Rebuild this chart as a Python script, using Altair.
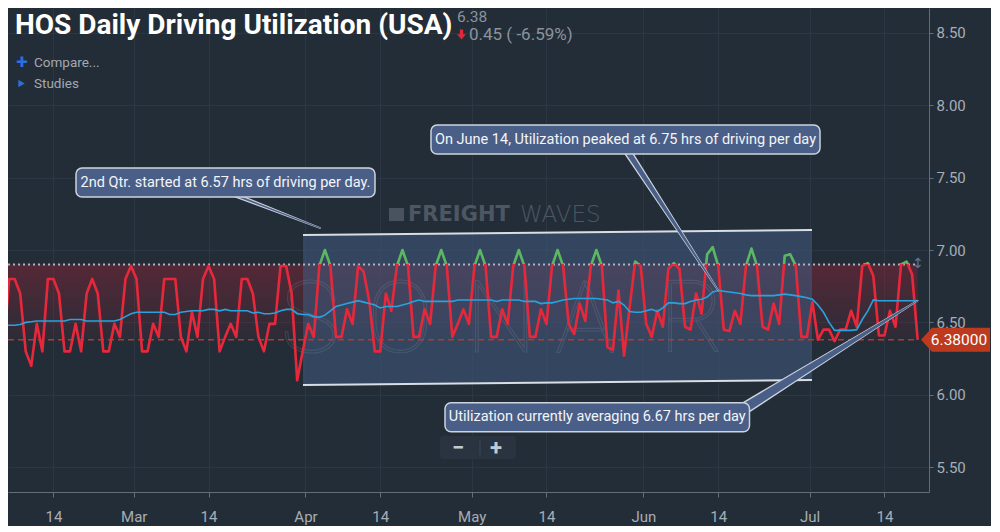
import altair as alt
import pandas as pd

# ---------------- data (daily values, first point 2019-02-04) ----------------
util = [
    6.45, 6.30, 6.80, 6.80, 6.70, 6.30, 6.20,
    6.49, 6.30, 6.80, 6.80, 6.70, 6.30, 6.30,
    6.49, 6.30, 6.70, 6.80, 6.70, 6.30, 6.30,
    6.49, 6.40, 6.80, 6.89, 6.80, 6.30, 6.30,
    6.49, 6.40, 6.80, 6.80, 6.80, 6.40, 6.30,
    6.57, 6.40, 6.80, 6.89, 6.80, 6.30, 6.40,
    6.49, 6.40, 6.80, 6.80, 6.70, 6.40, 6.30,
    6.49, 6.49, 6.89, 6.89, 6.70, 6.10, 6.30,
    6.49, 6.40, 6.89, 7.00, 6.89, 6.40, 6.40,
    6.59, 6.49, 6.89, 6.85, 6.65, 6.30, 6.30,
    6.70, 6.58, 6.89, 7.00, 6.89, 6.40, 6.40,
    6.59, 6.49, 6.89, 7.00, 6.89, 6.40, 6.49,
    6.59, 6.49, 6.89, 7.00, 6.89, 6.40, 6.40,
    6.59, 6.49, 6.89, 7.00, 6.89, 6.40, 6.40,
    6.59, 6.49, 6.89, 7.00, 6.89, 6.49, 6.42,
    6.63, 6.51, 6.89, 7.00, 6.89, 6.33, 6.31,
    6.72, 6.27, 6.60, 6.92, 6.89, 6.49, 6.40,
    6.58, 6.47, 6.87, 6.91, 6.87, 6.47, 6.45,
    6.70, 6.56, 6.97, 7.02, 6.89, 6.45, 6.44,
    6.58, 6.49, 6.89, 7.01, 6.89, 6.47, 6.45,
    6.63, 6.49, 6.96, 6.97, 6.89, 6.40, 6.40,
    6.64, 6.38, 6.45, 6.45, 6.37, 6.45, 6.45,
    6.58, 6.47, 6.89, 6.91, 6.82, 6.41, 6.41,
    6.58, 6.47, 6.90, 6.92, 6.83, 6.38,
]
avg = [
    6.48, 6.48, 6.48, 6.48, 6.485, 6.50, 6.505,
    6.51, 6.51, 6.51, 6.51, 6.51, 6.51, 6.52,
    6.52, 6.52, 6.51, 6.51, 6.51, 6.51, 6.51,
    6.51, 6.52, 6.54, 6.56, 6.57, 6.57, 6.57,
    6.57, 6.57, 6.57, 6.555, 6.555, 6.57, 6.575,
    6.58, 6.58, 6.58, 6.59, 6.59, 6.58, 6.59,
    6.58, 6.58, 6.58, 6.58, 6.565, 6.57, 6.56,
    6.56, 6.565, 6.58, 6.59, 6.59, 6.56, 6.555,
    6.555, 6.54, 6.535, 6.55, 6.58, 6.61, 6.62,
    6.63, 6.64, 6.65, 6.64, 6.63, 6.62, 6.60,
    6.61, 6.61, 6.61, 6.62, 6.63, 6.645, 6.655,
    6.645, 6.645, 6.645, 6.645, 6.645, 6.645, 6.655,
    6.655, 6.655, 6.655, 6.655, 6.655, 6.655, 6.645,
    6.655, 6.655, 6.655, 6.655, 6.645, 6.645, 6.645,
    6.63, 6.635, 6.635, 6.645, 6.655, 6.66, 6.665,
    6.665, 6.665, 6.665, 6.665, 6.66, 6.655, 6.635,
    6.645, 6.62, 6.575, 6.57, 6.57, 6.58, 6.59,
    6.575, 6.60, 6.635, 6.635, 6.63, 6.63, 6.645,
    6.655, 6.66, 6.675, 6.71, 6.72, 6.715, 6.71,
    6.705, 6.70, 6.69, 6.685, 6.685, 6.685, 6.685,
    6.685, 6.69, 6.695, 6.69, 6.685, 6.678, 6.67,
    6.66, 6.62, 6.57, 6.50, 6.445, 6.445, 6.445,
    6.445, 6.45, 6.52, 6.58, 6.655, 6.65, 6.65,
    6.65, 6.65, 6.65, 6.65, 6.65, 6.65,
]
assert len(util) == len(avg)
dates = pd.date_range("2019-02-04 12:00", periods=len(util), freq="D").strftime("%Y-%m-%dT%H:%M:%S").tolist()

THRESH = 6.9
last_val = util[-1]
prev_val = util[-2]
chg = last_val - prev_val
pct = chg / prev_val * 100

# channel drawn on the chart
ch_dates = ["2019-03-31T13:10:00", "2019-07-01T10:20:00"]
ch_top = [7.104, 7.138]
ch_bot = [6.068, 6.102]

# callouts
box_x1 = ["2019-02-18T13:47:00", "2019-04-23T15:40:00", "2019-04-26T04:20:00"]
box_x2 = ["2019-04-13T13:05:00", "2019-07-02T20:53:00", "2019-06-20T03:27:00"]
box_y1 = [7.566, 7.863, 5.945]
box_y2 = [7.366, 7.663, 5.745]
box_xc = ["2019-03-17T13:26:00", "2019-05-28T18:15:00", "2019-05-23T15:50:00"]
box_yc = [7.466, 7.763, 5.845]
box_text = [
    "2nd Qtr. started at 6.57 hrs of driving per day.",
    "On June 14, Utilization peaked at 6.75 hrs of driving per day",
    "Utilization currently averaging 6.67 hrs per day",
]
ptr_base_date = ["2019-03-17T19:55:00", "2019-05-28T20:24:00", "2019-06-19T07:55:00"]
ptr_base_val = [7.4006, 7.6975, 5.909]
ptr_tip_date = ["2019-04-03T14:49:00", dates[130], dates[-1]]
ptr_tip_val = [7.152, avg[130], avg[-1]]
ptr_base_w = [2.0, 5.5, 9.5]

# watermark letters
sonar_letters = ["S", "O", "N", "A", "R"]
sonar_x = [302, 392, 493, 577, 684]

# ---------------- styling ----------------
BG = "#232d38"
GRID = "#2c3743"
AX = "#646e79"
LAB = "#a7aeb6"
RED = "#e8283a"
GREEN = "#5cb860"
BLUE = "#2aa3dc"
BOXFILL = "#4a5f87"
BOXLINE = "#cdd3dc"

xscale = alt.Scale(domain=[alt.DateTime(year=2019, month=2, date=6, hours=7, minutes=12),
                           alt.DateTime(year=2019, month=7, date=22, hours=13, minutes=5)])
yscale = alt.Scale(domain=[5.3287, 8.6713], nice=False, zero=False)
tick_dates = [(2, 14, 12), (3, 1, 0), (3, 14, 12), (4, 1, 0), (4, 14, 12), (5, 1, 0),
              (5, 14, 12), (6, 1, 0), (6, 14, 12), (7, 1, 0), (7, 14, 12)]
xaxis = alt.Axis(
    values=[alt.DateTime(year=2019, month=m, date=d, hours=h) for m, d, h in tick_dates],
    labelExpr="date(datum.value) == 1 ? timeFormat(datum.value, '%b') : timeFormat(datum.value, '%d')",
    title=None, grid=True, gridColor=GRID, domainColor=AX, tickColor=AX, tickSize=5,
    labelColor=LAB, labelFontSize=15, labelPadding=12, labelAngle=0, labelFont="Roboto",
    labelOverlap=False)
yaxis = alt.Axis(
    orient="right", values=[5.5, 6.0, 6.5, 7.0, 7.5, 8.0, 8.5], format=".2f", title=None,
    grid=True, gridColor=GRID, domainColor=AX, tickColor=AX, tickSize=4, labelPadding=3,
    labelColor=LAB, labelFontSize=15, labelFont="Roboto")


def X(f):
    return alt.X(f, type="temporal", scale=xscale, axis=xaxis)


def Y(f):
    return alt.Y(f, type="quantitative", scale=yscale, axis=yaxis)


df = pd.DataFrame({"date": dates, "util": util, "avg": avg})
ch = pd.DataFrame({"date": ch_dates, "top": ch_top, "bot": ch_bot})
boxes = pd.DataFrame({"x1": box_x1, "x2": box_x2, "y1": box_y1, "y2": box_y2,
                      "xc": box_xc, "yc": box_yc, "text": box_text})
rows = []
for i in range(3):
    rows.append({"pid": i, "date": ptr_base_date[i], "val": ptr_base_val[i],
                 "wo": ptr_base_w[i] + 3.0, "wi": ptr_base_w[i]})
    rows.append({"pid": i, "date": ptr_tip_date[i], "val": ptr_tip_val[i], "wo": 1.6, "wi": 0.0})
ptr = pd.DataFrame(rows)
levels = pd.DataFrame({"x1": [dates[0], dates[0]], "x2": [dates[-1], dates[-1]],
                       "v": [THRESH, last_val], "kind": ["thr", "last"]})
one = pd.DataFrame({"k": [0]})
tag = pd.DataFrame({"v": [last_val], "label": [f"{last_val:.5f}"]})
thr_df = pd.DataFrame({"v": [THRESH]})
sonar = pd.DataFrame({"ch": sonar_letters, "px": sonar_x})

vmax, vmin = max(util), min(util)
off = (vmax - THRESH) / (vmax - vmin)
line_grad = alt.Gradient(gradient="linear", x1=0, x2=0, y1=0, y2=1, stops=[
    alt.GradientStop(color=GREEN, offset=0), alt.GradientStop(color=GREEN, offset=off),
    alt.GradientStop(color=RED, offset=off), alt.GradientStop(color=RED, offset=1)])
shade_grad = alt.Gradient(gradient="linear", x1=0, x2=0, y1=0, y2=1, stops=[
    alt.GradientStop(color="rgba(175,30,50,0.36)", offset=0),
    alt.GradientStop(color="rgba(175,30,50,0.06)", offset=1)])


def txt(s, x, y, **kw):
    return alt.Chart(one).mark_text(**kw).encode(x=alt.value(x), y=alt.value(y), text=alt.value(s))


layers = []
# red shading between threshold and last value
layers.append(alt.Chart(df).mark_area(fill=shade_grad, clip=True).transform_calculate(
    top=str(THRESH), bot=str(last_val)).encode(x=X("date"), y=Y("top"), y2=alt.Y2("bot")))
# channel fill
layers.append(alt.Chart(ch).mark_area(color="#3f567a", opacity=0.6, clip=True).encode(
    x=X("date"), y=Y("top"), y2=alt.Y2("bot")))
# watermarks
layers.append(alt.Chart(sonar).mark_text(fontSize=100, fontWeight=100, font="Roboto",
                                         align="center", fillOpacity=0, stroke="#8a97a8",
                                         strokeWidth=1.2, strokeOpacity=0.2).encode(
    x=alt.X("px:Q", scale=None), y=alt.value(314), text="ch:N"))
layers.append(alt.Chart(one).mark_rect(color="#48535f").encode(
    x=alt.value(381), x2=alt.value(396), y=alt.value(200), y2=alt.value(213)))
layers.append(txt("FREIGHT", 400, 207, fontSize=21, fontWeight="bold", font="DejaVu Sans",
                  align="left", baseline="middle", color="#4c5763"))
layers.append(txt("WAVES", 512, 207, fontSize=23, fontWeight=200, font="DejaVu Sans",
                  align="left", baseline="middle", color="#4c5763"))
# level lines
layers.append(alt.Chart(levels).transform_filter("datum.kind == 'thr'").mark_rule(
    color="#aeb6c1", strokeWidth=2, strokeDash=[2, 3], clip=True).encode(
    x=X("x1"), x2=alt.X2("x2"), y=Y("v")))
layers.append(alt.Chart(levels).transform_filter("datum.kind == 'last'").mark_rule(
    color="#b8392c", strokeWidth=1.3, strokeDash=[6, 4], clip=True).encode(
    x=X("x1"), x2=alt.X2("x2"), y=Y("v")))
# channel edges
layers.append(alt.Chart(ch).mark_line(color="#d9dee5", strokeWidth=2, clip=True).encode(
    x=X("date"), y=Y("top")))
layers.append(alt.Chart(ch).mark_line(color="#d9dee5", strokeWidth=2, clip=True).encode(
    x=X("date"), y=Y("bot")))
# utilization line (red below threshold, green above)
layers.append(alt.Chart(df).mark_line(stroke=line_grad, strokeWidth=2.6, clip=True,
                                      strokeJoin="round").encode(x=X("date"), y=Y("util")))
# moving average
layers.append(alt.Chart(df).mark_line(color=BLUE, strokeWidth=1.6, clip=True).encode(
    x=X("date"), y=Y("avg")))
# callout pointers
layers.append(alt.Chart(ptr).mark_trail(color=BOXLINE).encode(
    x=X("date"), y=Y("val"), size=alt.Size("wo:Q", scale=None), detail="pid:N"))
layers.append(alt.Chart(ptr).mark_trail(color=BOXFILL).encode(
    x=X("date"), y=Y("val"), size=alt.Size("wi:Q", scale=None), detail="pid:N"))
# callout boxes
layers.append(alt.Chart(boxes).mark_rect(fill=BOXFILL, stroke=BOXLINE, strokeWidth=1.5,
                                         cornerRadius=6).encode(
    x=X("x1"), x2=alt.X2("x2"), y=Y("y1"), y2=alt.Y2("y2")))
layers.append(alt.Chart(boxes).mark_text(align="center", baseline="middle", fontSize=14.5,
                                         font="Roboto", color="#f3f5f8").encode(
    x=X("xc"), y=Y("yc"), text="text:N"))
# header texts
layers.append(txt("HOS Daily Driving Utilization (USA)", 7, 25.5, fontSize=28, fontWeight="bold",
                  font="Roboto", color="#ffffff", align="left", baseline="alphabetic"))
layers.append(txt(f"{last_val:.2f}", 449, 14, fontSize=15.5, font="Roboto", color="#8b939c",
                  align="left", baseline="alphabetic"))
layers.append(alt.Chart(one).mark_point(
    shape="M-0.33,-1L0.33,-1L0.33,-0.05L0.9,-0.05L0,1L-0.9,-0.05L-0.33,-0.05Z",
    size=100, filled=True, opacity=1, color="#e0283a").encode(x=alt.value(453.5), y=alt.value(26.5)))
layers.append(txt(f"{abs(chg):.2f} ( {pct:.2f}%)", 461, 31.5, fontSize=17, font="Roboto",
                  color="#8b939c", align="left", baseline="alphabetic"))
layers.append(txt("+", 14, 54.5, fontSize=21, fontWeight="bold", font="Roboto", color="#2e6ed8",
                  align="center", baseline="middle"))
layers.append(txt("Compare...", 26, 55, fontSize=13.5, font="Roboto", color="#a2a9b1",
                  align="left", baseline="middle"))
layers.append(alt.Chart(one).mark_point(shape="triangle-right", size=55, filled=True, opacity=1,
                                        color="#2e6ed8").encode(x=alt.value(13.5), y=alt.value(75.5)))
layers.append(txt("Studies", 26, 75.5, fontSize=13.5, font="Roboto", color="#a2a9b1",
                  align="left", baseline="middle"))
# zoom buttons
layers.append(alt.Chart(one).mark_rect(color="#2a3440", cornerRadius=3).encode(
    x=alt.value(432), x2=alt.value(508), y=alt.value(428), y2=alt.value(451)))
layers.append(alt.Chart(one).mark_rule(color="#3b4653").encode(
    x=alt.value(472), y=alt.value(432), y2=alt.value(447)))
layers.append(txt("\u2212", 450, 439.5, fontSize=22, fontWeight="bold", font="Roboto",
                  color="#c3c9d0", align="center", baseline="middle"))
layers.append(txt("+", 488, 439.5, fontSize=22, fontWeight="bold", font="Roboto",
                  color="#c3c9d0", align="center", baseline="middle"))
# small drag icon at the threshold
layers.append(alt.Chart(thr_df).mark_text(text="\u2195", fontSize=14, font="DejaVu Sans",
                                          color="#5675a6", align="center", baseline="middle").encode(
    x=alt.value(910), y=Y("v")))
# last-value price tag
layers.append(alt.Chart(tag).mark_point(
    shape="M-1,0L-0.68,-0.348L1,-0.348L1,0.348L-0.68,0.348Z", size=4761, filled=True,
    opacity=1, color="#be3a1e").encode(x=alt.value(947.5), y=Y("v")))
layers.append(alt.Chart(tag).mark_text(fontSize=15.5, font="Roboto", color="#ffffff",
                                       align="center", baseline="middle").encode(
    x=alt.value(951), y=Y("v"), text="label:N"))

chart = alt.layer(*layers).properties(
    width=921, height=484,
    autosize=alt.AutoSizeParams(type="none"),
    padding={"left": 0, "top": 0, "right": 62, "bottom": 34},
).configure(background=BG, font="Roboto").configure_view(strokeWidth=0)

chart.save("out.html", embed_options={"renderer": "svg", "actions": False})
